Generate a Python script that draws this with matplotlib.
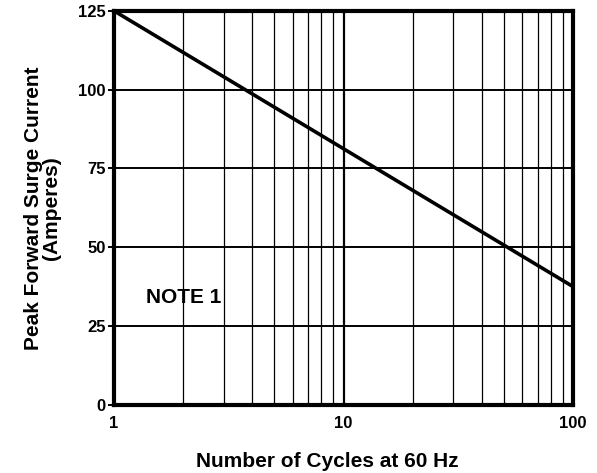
import matplotlib
matplotlib.use("Agg")
import matplotlib.pyplot as plt
from matplotlib.ticker import FixedLocator, NullFormatter

plt.rcParams['font.family'] = ['Liberation Sans', 'DejaVu Sans']
plt.rcParams['font.weight'] = 'bold'

# surge rating curve, straight on log axis
cycles = [1, 10, 100]
current = [125, 81.25, 37.5]

y_ticks = [0, 25, 50, 75, 100, 125]
x_major = [1, 10, 100]
x_minor = [2, 3, 4, 5, 6, 7, 8, 9, 20, 30, 40, 50, 60, 70, 80, 90]

fig = plt.figure(figsize=(5.97, 4.73), dpi=100)
ax = fig.add_axes([0.191, 0.144, 0.769, 0.833])

ax.set_xscale('log')
ax.set_xlim(1, 100)
ax.set_ylim(0, 125)

for x in x_minor:
    ax.axvline(x, color='black', lw=0.9, zorder=1)
ax.axvline(10, color='black', lw=1.6, zorder=1)
for y in y_ticks[1:-1]:
    ax.axhline(y, color='black', lw=1.4, zorder=1)

ax.plot(cycles, current, color='black', lw=2.6, zorder=3)

ax.xaxis.set_major_locator(FixedLocator(x_major))
ax.set_xticklabels(['1', '10', '100'])
ax.xaxis.set_minor_locator(FixedLocator(x_minor))
ax.xaxis.set_minor_formatter(NullFormatter())
ax.set_yticks(y_ticks)
ax.tick_params(axis='both', labelsize=12, width=1.4)
ax.tick_params(axis='x', which='both', length=0, pad=8)
ax.tick_params(axis='y', length=4, pad=2)

for s in ax.spines.values():
    s.set_linewidth(3)

ax.text(2.02, 34, 'NOTE 1', fontsize=15, fontweight='bold', ha='center', va='center')

ax.set_xlabel('Number of Cycles at 60 Hz', fontsize=15, fontweight='bold')
ax.xaxis.set_label_coords(0.464, -0.12)
ax.set_ylabel('Peak Forward Surge Current\n(Amperes)', fontsize=15, fontweight='bold',
              labelpad=12, linespacing=0.95)

fig.savefig('out.png', dpi=100)
